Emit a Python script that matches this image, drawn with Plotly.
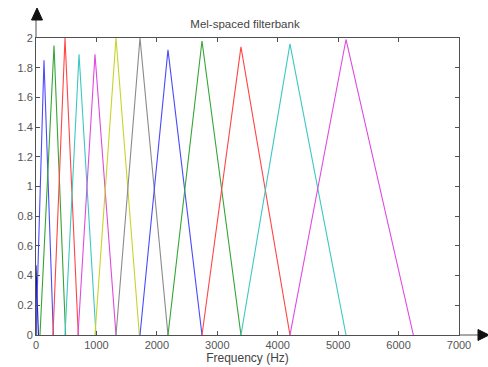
import plotly.graph_objects as go

# Filter triangles: left edge, peak frequency, right edge (Hz) and peak height
left_hz   = [0,   0,   66,  281, 480, 695, 976,  1324, 1721, 2184, 2747, 3392, 4203]
center_hz = [0,   132, 298, 480, 712, 976, 1324, 1721, 2184, 2747, 3392, 4203, 5130]
right_hz  = [40,  287, 490, 700, 993, 1324, 1710, 2184, 2747, 3392, 4203, 5130, 6245]
heights   = [0.47, 1.85, 1.95, 2.0, 1.89, 1.89, 2.0, 2.0, 1.92, 1.98, 1.94, 1.96, 1.99]
colors    = ["#1a1a8c", "#4a4aff", "#35a535", "#ff4545", "#3cc8c0", "#e04ae0",
             "#c8d428", "#8a8a8a", "#4a4aff", "#35a535", "#ff4545", "#3cc8c0", "#e04ae0"]

x_ticks = [0, 1000, 2000, 3000, 4000, 5000, 6000, 7000]
y_ticks = [0, 0.2, 0.4, 0.6, 0.8, 1, 1.2, 1.4, 1.6, 1.8, 2]

fig = go.Figure()
for l, c, r, h, col in zip(left_hz, center_hz, right_hz, heights, colors):
    fig.add_trace(go.Scatter(x=[l, c, r], y=[0, h, 0], mode="lines",
                             line=dict(color=col, width=1.1), showlegend=False,
                             hoverinfo="skip"))

W, H = 488, 367
ml, mr, mt, mb = 36, 29, 38, 32
pw, ph = W - ml - mr, H - mt - mb

def px(xp):
    return (xp - ml) / pw

def py(yp):
    return (H - mb - yp) / ph

axis_col = "#505050"
shapes = [
    dict(type="line", xref="paper", yref="paper", x0=0, x1=0, y0=1, y1=py(18),
         line=dict(color=axis_col, width=1)),
    dict(type="line", xref="paper", yref="paper", x0=1, x1=px(480), y0=0, y1=0,
         line=dict(color=axis_col, width=1)),
    dict(type="path", xref="paper", yref="paper",
         path=f"M {px(31.5)} {py(20)} L {px(42.5)} {py(20)} L {px(37)} {py(8)} Z",
         fillcolor="#111111", line=dict(color="#111111", width=1)),
    dict(type="path", xref="paper", yref="paper",
         path=f"M {px(478)} {py(329.5)} L {px(478)} {py(340.5)} L {px(489)} {py(335)} Z",
         fillcolor="#111111", line=dict(color="#111111", width=1)),
]

fig.update_layout(
    width=W, height=H,
    margin=dict(l=ml, r=mr, t=mt, b=mb, autoexpand=False),
    paper_bgcolor="white", plot_bgcolor="white",
    font=dict(family="Liberation Sans, Arial, sans-serif", size=11, color="#555555"),
    title=dict(text="Mel-spaced filterbank", x=px(245), xref="paper", xanchor="center",
               y=1 - 24 / H, yanchor="middle",
               font=dict(size=11.5, color="#444444")),
    shapes=shapes,
    xaxis=dict(range=[0, 7000], tickvals=x_ticks, ticktext=[str(v) for v in x_ticks],
               ticks="inside", ticklen=4, tickcolor=axis_col, showline=True,
               linecolor=axis_col, linewidth=1, mirror="ticks", showgrid=False,
               zeroline=False, automargin=False,
               title=dict(text="Frequency (Hz)", standoff=0,
                          font=dict(size=12, color="#444444"))),
    yaxis=dict(range=[0, 2], tickvals=y_ticks, ticks="inside", ticklen=4,
               tickcolor=axis_col, showline=True, linecolor=axis_col, linewidth=1,
               mirror="ticks", showgrid=False, zeroline=False, automargin=False),
)

fig.write_html("out.html")
